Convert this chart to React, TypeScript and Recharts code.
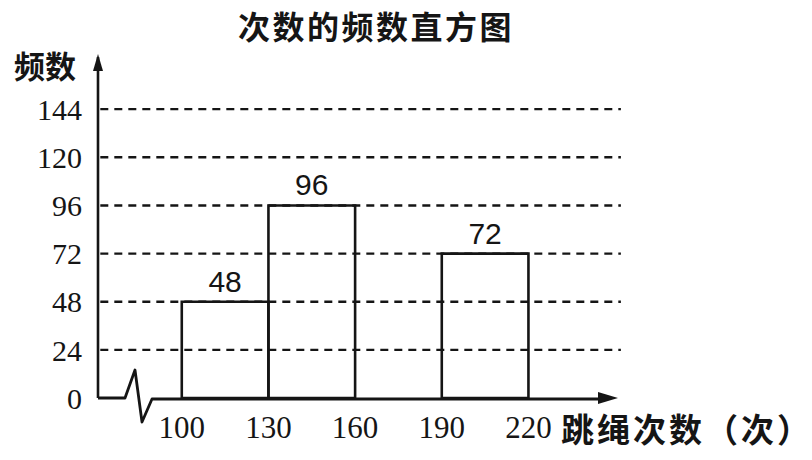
import { ComposedChart, XAxis, YAxis, ReferenceArea, ReferenceLine } from "recharts";

// histogram bins (160-190 is left blank in the figure)
const binStarts = [100, 130, 160, 190];
const binEnds = [130, 160, 190, 220];
const counts: (number | null)[] = [48, 96, null, 72];
const xTicks = [100, 130, 160, 190, 220];
const yTicks = [0, 24, 48, 72, 96, 120, 144];

const title = "次数的频数直方图";
const yLabel = "频数";
const xLabel = "跳绳次数（次）";

const X_MIN = 71;
const X_MAX = 251;
const Y_MAX = 170;

const ink = "#151515";
const cjk = '"Noto Sans CJK SC", "Noto Sans", sans-serif';

const data = binStarts.map((s, i) => ({ x: (s + binEnds[i]) / 2, count: counts[i] }));

// y axis with arrow at the top
const YAxisArrow = (p: any) => (
  <g>
    <line x1={p.x1} y1={p.y1} x2={p.x2} y2={p.y2} stroke={ink} strokeWidth={2.6} />
    <polygon
      points={`${p.x2},${p.y2 - 3} ${p.x2 - 5},${p.y2 + 14} ${p.x2 + 5},${p.y2 + 14}`}
      fill={ink}
    />
  </g>
);

// x axis with the break mark near the origin and an arrow at the right
const XAxisArrow = (p: any) => {
  const { x1, y1, x2 } = p;
  const d = `M${x1},${y1} H${x1 + 27} L${x1 + 37},${y1 - 28} L${x1 + 44},${y1 + 24} L${x1 + 54},${y1 + 1} H${x2 - 12}`;
  return (
    <g>
      <path d={d} fill="none" stroke={ink} strokeWidth={2.8} strokeLinejoin="round" />
      <polygon points={`${x2},${y1} ${x2 - 20},${y1 - 6} ${x2 - 20},${y1 + 6}`} fill={ink} />
    </g>
  );
};

export default function App() {
  return (
    <div style={{ position: "absolute", left: 0, top: 0, width: 812, height: 460, background: "#fff" }}>
      <div
        style={{
          position: "absolute",
          left: 238,
          top: 2,
          fontFamily: cjk,
          fontWeight: 700,
          fontSize: 32,
          letterSpacing: 2.5,
          color: ink,
          whiteSpace: "nowrap",
        }}
      >
        {title}
      </div>
      <div
        style={{
          position: "absolute",
          left: 14,
          top: 42,
          fontFamily: cjk,
          fontWeight: 700,
          fontSize: 31,
          color: ink,
          whiteSpace: "nowrap",
        }}
      >
        {yLabel}
      </div>
      <div
        style={{
          position: "absolute",
          left: 561,
          top: 404,
          fontFamily: cjk,
          fontWeight: 700,
          fontSize: 33,
          letterSpacing: 3,
          color: ink,
          whiteSpace: "nowrap",
        }}
      >
        {xLabel}
      </div>
      <ComposedChart
        width={812}
        height={460}
        data={data}
        margin={{ top: 57, right: 194, bottom: 32, left: 38 }}
      >
        <XAxis
          type="number"
          dataKey="x"
          domain={[X_MIN, X_MAX]}
          ticks={xTicks}
          allowDataOverflow
          axisLine={false}
          tickLine={false}
          tickSize={0}
          tickMargin={18}
          height={30}
          tick={{ fontFamily: '"Liberation Serif", serif', fontSize: 31, fill: ink }}
        />
        <YAxis
          type="number"
          domain={[0, Y_MAX]}
          ticks={yTicks}
          allowDataOverflow
          axisLine={false}
          tickLine={false}
          tickSize={0}
          tickMargin={16}
          width={60}
          tick={{ fontFamily: '"Liberation Serif", serif', fontSize: 30, fill: ink }}
        />
        {yTicks
          .filter((t) => t > 0)
          .map((t) => (
            <ReferenceLine
              key={`grid-${t}`}
              segment={[
                { x: X_MIN + 0.8, y: t },
                { x: X_MAX + 1, y: t },
              ]}
              ifOverflow="visible"
              stroke={ink}
              strokeWidth={2.4}
              strokeDasharray="8 6"
            />
          ))}
        {counts.map((c, i) =>
          c == null ? null : (
            <ReferenceArea
              key={`bin-${i}`}
              x1={binStarts[i]}
              x2={binEnds[i]}
              y1={0}
              y2={c}
              fill="none"
              fillOpacity={0}
              stroke={ink}
              strokeWidth={2.6}
              ifOverflow="visible"
              label={{
                value: c,
                position: "top",
                offset: 10,
                fontSize: 30,
                fontFamily: '"Liberation Sans", Arial, sans-serif',
                fill: ink,
              }}
            />
          )
        )}
        <ReferenceLine
          segment={[
            { x: X_MIN, y: 0 },
            { x: X_MIN, y: Y_MAX },
          ]}
          ifOverflow="visible"
          shape={YAxisArrow}
        />
        <ReferenceLine
          segment={[
            { x: X_MIN, y: 0 },
            { x: X_MAX, y: 0 },
          ]}
          ifOverflow="visible"
          shape={XAxisArrow}
        />
      </ComposedChart>
    </div>
  );
}
